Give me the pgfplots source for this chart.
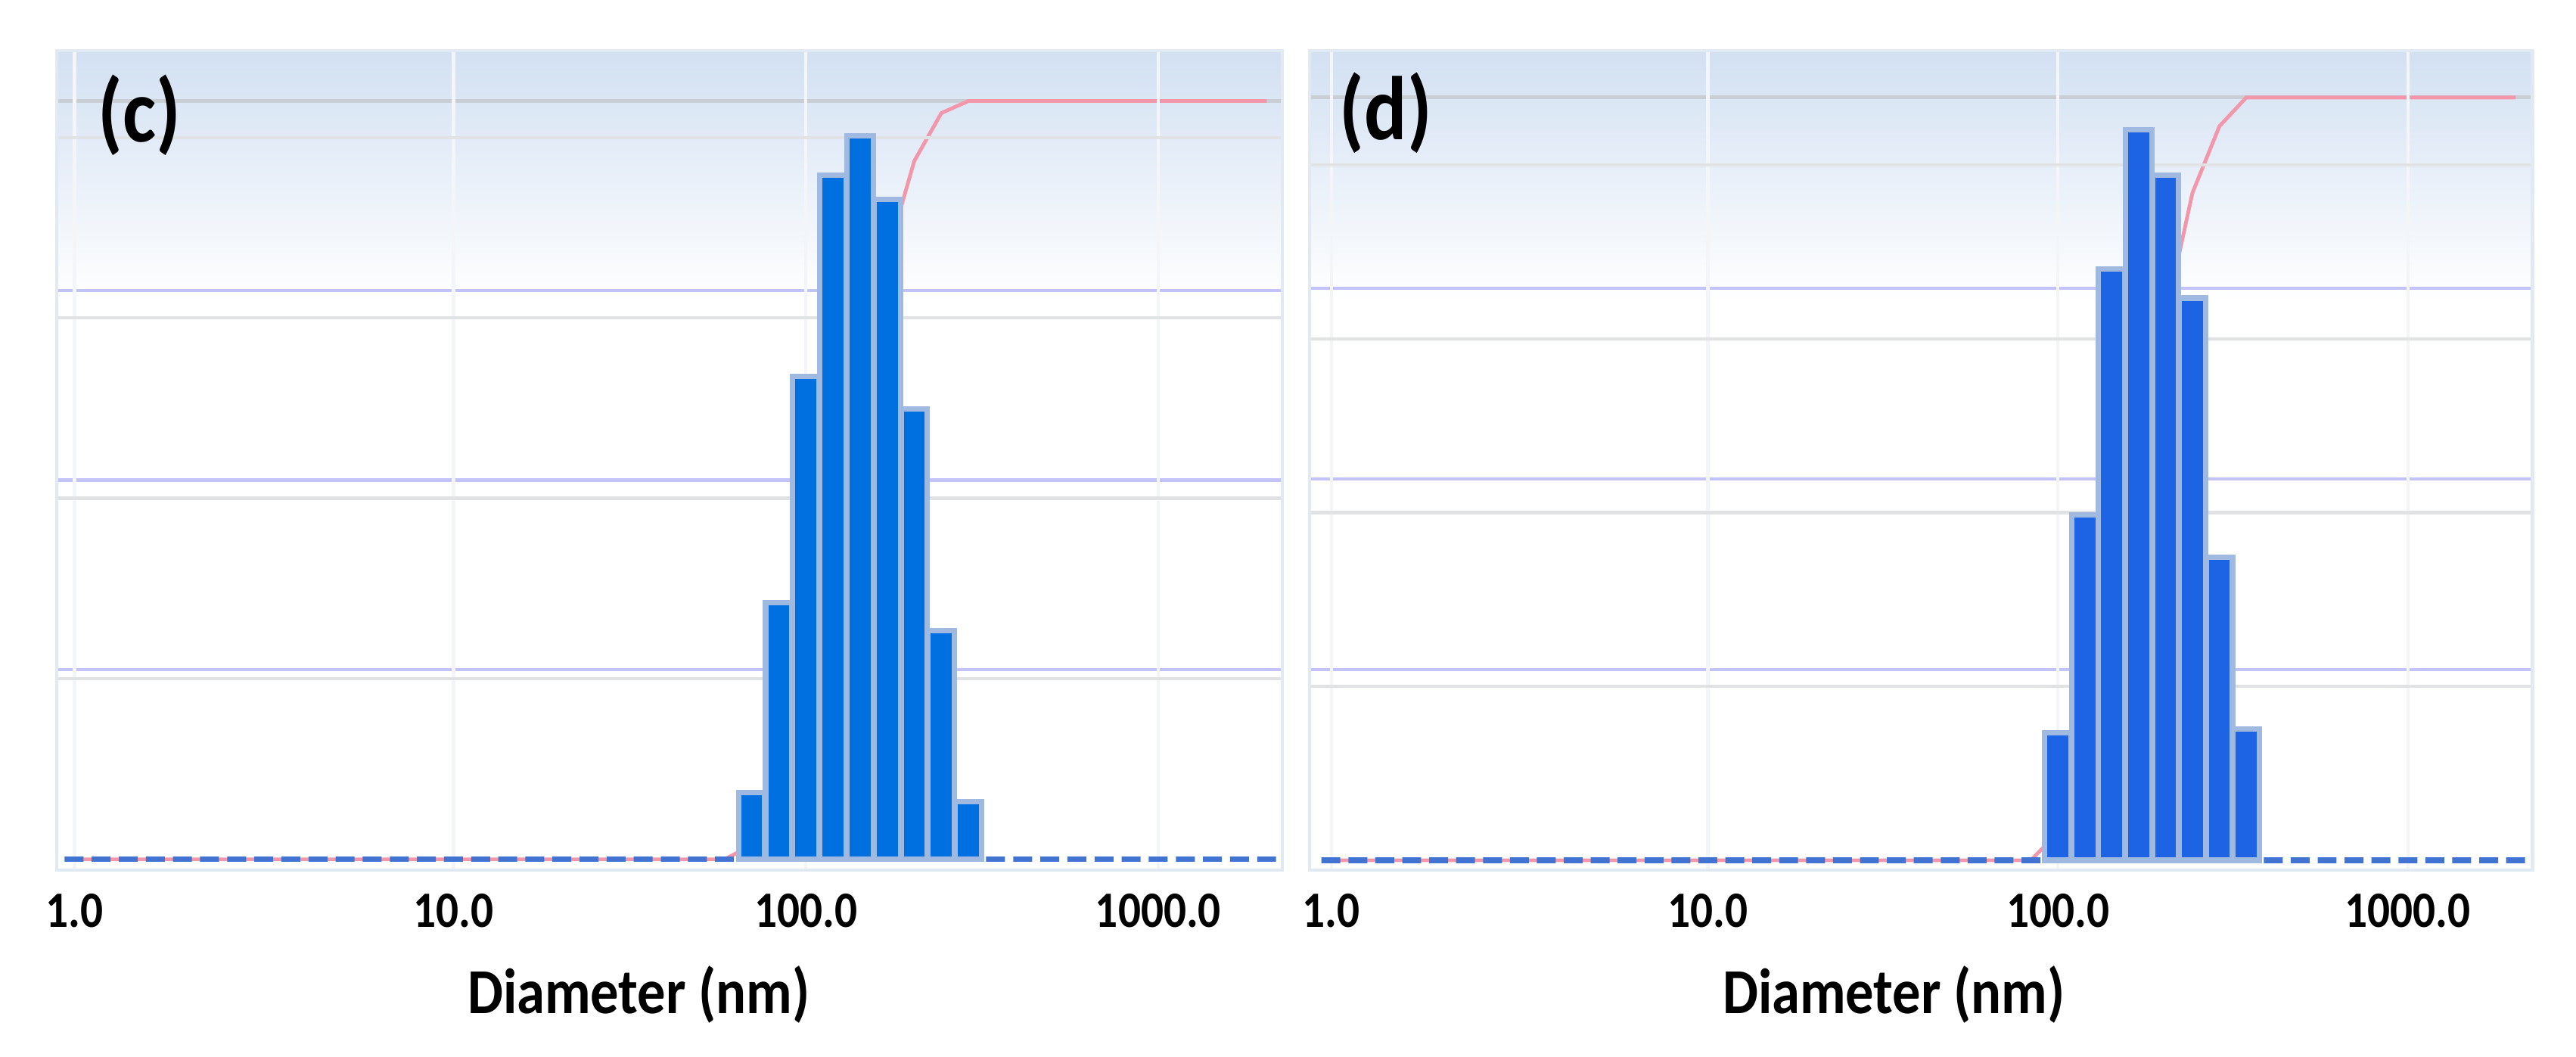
\documentclass[border=0pt]{standalone}
\usepackage{fontspec}
\setmainfont{Carlito}[FakeStretch=0.88]
\usepackage{pgfplots}
\pgfplotsset{compat=1.18}

\definecolor{bgblue}{RGB}{210,224,242}
\definecolor{gridpurple}{RGB}{195,195,250}
\definecolor{gridgray}{RGB}{224,226,228}
\definecolor{gridtop}{RGB}{200,206,212}
\definecolor{vgrid}{RGB}{243,245,248}
\definecolor{boxline}{RGB}{225,233,243}
\definecolor{barc}{RGB}{0,112,224}
\definecolor{bard}{RGB}{28,100,228}
\definecolor{halo}{RGB}{160,185,225}
\definecolor{dashblue}{RGB}{65,115,210}
\definecolor{pinkl}{RGB}{242,150,170}

\begin{document}
\begin{tikzpicture}
\path[use as bounding box] (0,0) rectangle (627.2pt,257.2pt);
% top gradient of each plot area
\shade[top color=bgblue, bottom color=white] (13.8pt,184pt) rectangle (312.2pt,244.8pt);
\shade[top color=bgblue, bottom color=white] (318.8pt,184pt) rectangle (616.6pt,244.8pt);

% ---------------- (c) cumulative ----------------
\begin{axis}[scale only axis, anchor=south west, at={(13.8pt,45.4pt)}, width=298.4pt, height=199.4pt,
  xmode=log, xmin=0.748, xmax=2249, ymin=-1.41, ymax=106.6,
  xtick=\empty, ytick={25,50,75}, yticklabels={},
  ymajorgrids, grid style={gridpurple, line width=0.8pt},
  major tick length=0pt, minor tick length=0pt,
  axis line style={draw=none}]
\draw[gridtop, line width=0.9pt] (axis cs:0.748,100) -- (axis cs:2249,100);
\addplot[pinkl, line width=0.9pt] coordinates {
(0.8376,0) (58.780,0) (70.170,1.84) (83.768,8.94) (100,22.31) (119.38,41.27)
(142.51,61.32) (170.13,79.61) (203.09,92.08) (242.45,98.41) (289.43,100) (2030.9,100)};
\end{axis}
% ---------------- (c) bars ----------------
\begin{axis}[scale only axis, anchor=south west, at={(13.8pt,45.4pt)}, width=298.4pt, height=199.4pt,
  xmode=log, xmin=0.748, xmax=2249, ymin=-0.30, ymax=22.40,
  xtick={0.84,10,100,1000}, xticklabels={1.0,10.0,100.0,1000.0},
  xmajorgrids, x grid style={vgrid, line width=0.8pt},
  ytick={5,10,15,20}, yticklabels={},
  ymajorgrids, y grid style={gridgray, line width=0.8pt},
  major tick length=0pt, minor tick length=0pt,
  axis line style={draw=boxline, line width=0.8pt},
  xticklabel style={font=\fontsize{12.4}{14}\selectfont\bfseries, yshift=-2.3pt},
  xlabel={Diameter (nm)},
  xlabel style={at={(axis description cs:0.475,0)}, anchor=north, yshift=-19.8pt, font=\fontsize{15.6}{18}\selectfont\bfseries}]
\addplot[ybar, bar width=4.6pt, bar shift=0pt, fill=none, draw=dashblue, line width=1.3pt] coordinates {
(0.8376,0) (1,0) (1.1938,0) (1.4251,0) (1.7013,0) (2.0309,0) (2.4245,0) (2.8943,0)
(3.4551,0) (4.1246,0) (4.9239,0) (5.8780,0) (7.0170,0) (8.3768,0) (10,0) (11.938,0)
(14.251,0) (17.013,0) (20.309,0) (24.245,0) (28.943,0) (34.551,0) (41.246,0) (49.239,0)
(58.780,0) (345.51,0) (412.46,0) (492.39,0) (587.80,0) (701.70,0) (837.68,0) (1000,0)
(1193.8,0) (1425.1,0) (1701.3,0) (2030.9,0)};
\addplot[ybar, bar width=6.4pt, bar shift=0pt, fill=barc, draw=halo, line width=1.3pt] coordinates {
(70.170,1.84) (83.768,7.10) (100,13.37) (119.38,18.96) (142.51,20.05)
(170.13,18.29) (203.09,12.47) (242.45,6.33) (289.43,1.59)};
\node[font=\fontsize{22}{25}\selectfont\bfseries, xshift=20.2pt, yshift=-15.7pt] at (rel axis cs:0,1) {(c)};
\end{axis}

% ---------------- (d) cumulative ----------------
\begin{axis}[scale only axis, anchor=south west, at={(318.8pt,45.4pt)}, width=297.8pt, height=199.4pt,
  xmode=log, xmin=0.727, xmax=2270, ymin=-1.27, ymax=106.1,
  xtick=\empty, ytick={25,50,75}, yticklabels={},
  ymajorgrids, grid style={gridpurple, line width=0.8pt},
  major tick length=0pt, minor tick length=0pt,
  axis line style={draw=none}]
\draw[gridtop, line width=0.9pt] (axis cs:0.727,100) -- (axis cs:2270,100);
\addplot[pinkl, line width=0.9pt] coordinates {
(0.8376,0) (83.768,0) (100,3.66) (119.38,13.60) (142.51,30.61) (170.13,51.63)
(203.09,71.33) (242.45,87.50) (289.43,96.22) (345.51,100) (2030.9,100)};
\end{axis}
% ---------------- (d) bars ----------------
\begin{axis}[scale only axis, anchor=south west, at={(318.8pt,45.4pt)}, width=297.8pt, height=199.4pt,
  xmode=log, xmin=0.727, xmax=2270, ymin=-0.279, ymax=23.28,
  xtick={0.84,10,100,1000}, xticklabels={1.0,10.0,100.0,1000.0},
  xmajorgrids, x grid style={vgrid, line width=0.8pt},
  ytick={5,10,15,20}, yticklabels={},
  ymajorgrids, y grid style={gridgray, line width=0.8pt},
  major tick length=0pt, minor tick length=0pt,
  axis line style={draw=boxline, line width=0.8pt},
  xticklabel style={font=\fontsize{12.4}{14}\selectfont\bfseries, yshift=-2.3pt},
  xlabel={Diameter (nm)},
  xlabel style={at={(axis description cs:0.478,0)}, anchor=north, yshift=-19.8pt, font=\fontsize{15.6}{18}\selectfont\bfseries}]
\addplot[ybar, bar width=4.6pt, bar shift=0pt, fill=none, draw=dashblue, line width=1.3pt] coordinates {
(0.8376,0) (1,0) (1.1938,0) (1.4251,0) (1.7013,0) (2.0309,0) (2.4245,0) (2.8943,0)
(3.4551,0) (4.1246,0) (4.9239,0) (5.8780,0) (7.0170,0) (8.3768,0) (10,0) (11.938,0)
(14.251,0) (17.013,0) (20.309,0) (24.245,0) (28.943,0) (34.551,0) (41.246,0) (49.239,0)
(58.780,0) (70.170,0) (83.768,0) (412.46,0) (492.39,0) (587.80,0) (701.70,0) (837.68,0)
(1000,0) (1193.8,0) (1425.1,0) (1701.3,0) (2030.9,0)};
\addplot[ybar, bar width=6.4pt, bar shift=0pt, fill=bard, draw=halo, line width=1.3pt] coordinates {
(100,3.66) (119.38,9.94) (142.51,17.01) (170.13,21.02) (203.09,19.70)
(242.45,16.17) (289.43,8.72) (345.51,3.78)};
\node[font=\fontsize{22}{25}\selectfont\bfseries, xshift=18.6pt, yshift=-15.1pt] at (rel axis cs:0,1) {(d)};
\end{axis}
\end{tikzpicture}
\end{document}
